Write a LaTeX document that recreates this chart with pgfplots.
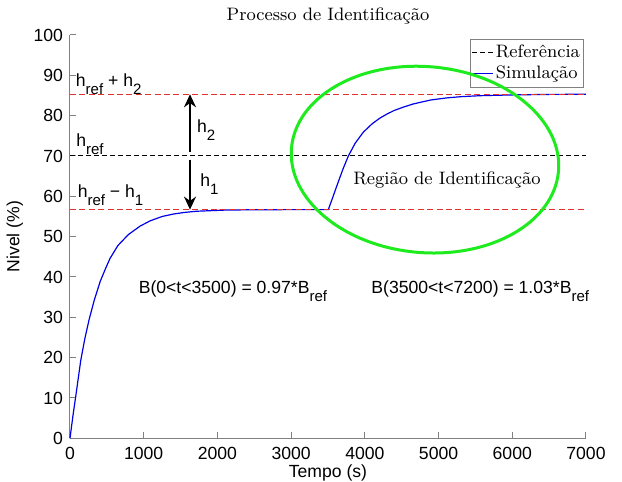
\documentclass[border=0pt]{standalone}
\usepackage{fontspec}
\usepackage{pgfplots}
\pgfplotsset{compat=1.18}
\usetikzlibrary{arrows.meta}
\newfontfamily\arial{Liberation Sans}
\definecolor{myred}{RGB}{225,50,50}
\definecolor{myblue}{RGB}{0,0,230}
\definecolor{mygreen}{RGB}{30,235,30}
\newcommand{\sub}[1]{\raisebox{-4pt}{\fontsize{7.5}{8}\selectfont #1}}
\newcommand{\sfs}{\arial\fontsize{8.8}{10}\selectfont}
\begin{document}
\begin{tikzpicture}
\begin{axis}[
  at={(35pt,21.85pt)}, anchor=south west,
  scale only axis, width=258pt, height=201.65pt,
  xmin=0, xmax=7000, ymin=0, ymax=100,
  axis x line*=bottom, axis y line*=left,
  axis line style={gray, line width=0.5pt},
  xtick={0,1000,...,7000}, ytick={0,10,...,100},
  tick align=inside, major tick length=3pt,
  tick style={gray, line width=0.5pt},
  /pgf/number format/assume math mode=true,
  /pgf/number format/set thousands separator={},
  tick label style={font=\sfs},
  xticklabel style={yshift=-0.8pt},
  xlabel={Tempo (s)}, ylabel={Nivel (\%)},
  label style={font=\sfs},
  xlabel style={at={(axis description cs:0.5,-0.087)}, anchor=center},
  ylabel style={at={(axis description cs:-0.107,0.5)}, anchor=center},
  title={Processo de Identificação},
  every axis title shift=0pt,
  title style={at={(axis description cs:0.5,1.047)}, anchor=center, font=\fontsize{9}{11}\selectfont},
  legend style={at={(0.996,0.99)}, anchor=north east, draw=gray, font=\fontsize{9}{10}\selectfont, inner sep=0.8pt, row sep=-1.5pt,
    nodes={inner xsep=1pt}},
  legend cell align=left,
  legend image code/.code={\draw[#1] (0pt,0pt) -- (10.5pt,0pt);},
  clip=false,
]
\addplot[black, line width=0.5pt, dash pattern=on 2.6pt off 1.4pt] coordinates {(0,70) (7000,70)};
\addlegendentry{Referência}
\addplot[myblue, line width=0.6pt] coordinates {
(0,0) (40,5.6) (81,10.8) (145,19.2) (200,24.6) (260,29.5) (330,34.3) (410,38.9)
(480,42.0) (543,44.6) (650,47.8) (791,50.5) (950,52.6) (1085,53.9) (1250,55.0)
(1402,55.6) (1550,56.0) (1718,56.3) (2125,56.6) (2600,56.68) (3000,56.7) (3504,56.7)
(3560,59.5) (3620,62.6) (3700,66.6) (3776,70) (3870,73.2) (3979,75.9) (4100,78.0)
(4205,79.4) (4300,80.4) (4400,81.3) (4520,82.1) (4657,82.9) (4800,83.5) (4900,83.9)
(5110,84.4) (5300,84.7) (5562,84.95) (6015,85.15) (6500,85.27) (7000,85.3)};
\addlegendentry{Simulação}
\addplot[myred, line width=0.6pt, dash pattern=on 3pt off 1.7pt, forget plot] coordinates {(0,85.3) (7000,85.3)};
\addplot[myred, line width=0.6pt, dash pattern=on 3pt off 1.7pt, forget plot] coordinates {(0,56.7) (7000,56.7)};
\draw[line width=1pt, -{Stealth[length=6.5pt,width=6pt]}] (axis cs:1628,71.1) -- (axis cs:1628,85.3);
\draw[line width=1pt, -{Stealth[length=6.5pt,width=6pt]}] (axis cs:1628,69.1) -- (axis cs:1628,56.7);
\node[anchor=base west, font=\sfs, inner sep=0pt] at (axis cs:75,87.2) {h\sub{ref} + h\sub{2}};
\node[anchor=base west, font=\sfs, inner sep=0pt] at (axis cs:81,72.4) {h\sub{ref}};
\node[anchor=base west, font=\sfs, inner sep=0pt] at (axis cs:100,59.8) {h\sub{ref} \symbol{"2212} h\sub{1}};
\node[anchor=base west, font=\sfs, inner sep=0pt] at (axis cs:1718,75.9) {h\sub{2}};
\node[anchor=base west, font=\sfs, inner sep=0pt] at (axis cs:1764,62.4) {h\sub{1}};
\node[anchor=base west, font=\sfs, inner sep=0pt] at (axis cs:928,36.0) {B(0<t<3500) = 0.97*B\sub{ref}};
\node[anchor=base west, font=\sfs, inner sep=0pt] at (axis cs:4084,36.0) {B(3500<t<7200) = 1.03*B\sub{ref}};
\node[anchor=center, font=\fontsize{9}{11}\selectfont, inner sep=0pt] at (axis cs:5114,64.1) {Região de Identificação};
\coordinate (E) at (axis cs:4816,69.1);
\end{axis}
\draw[mygreen, line width=1.5pt, rotate around={-5:(E)}] (E) ellipse [x radius=67pt, y radius=46.5pt];
\pgfresetboundingbox
\useasboundingbox (0,0) rectangle (311pt,241pt);
\end{tikzpicture}
\end{document}
